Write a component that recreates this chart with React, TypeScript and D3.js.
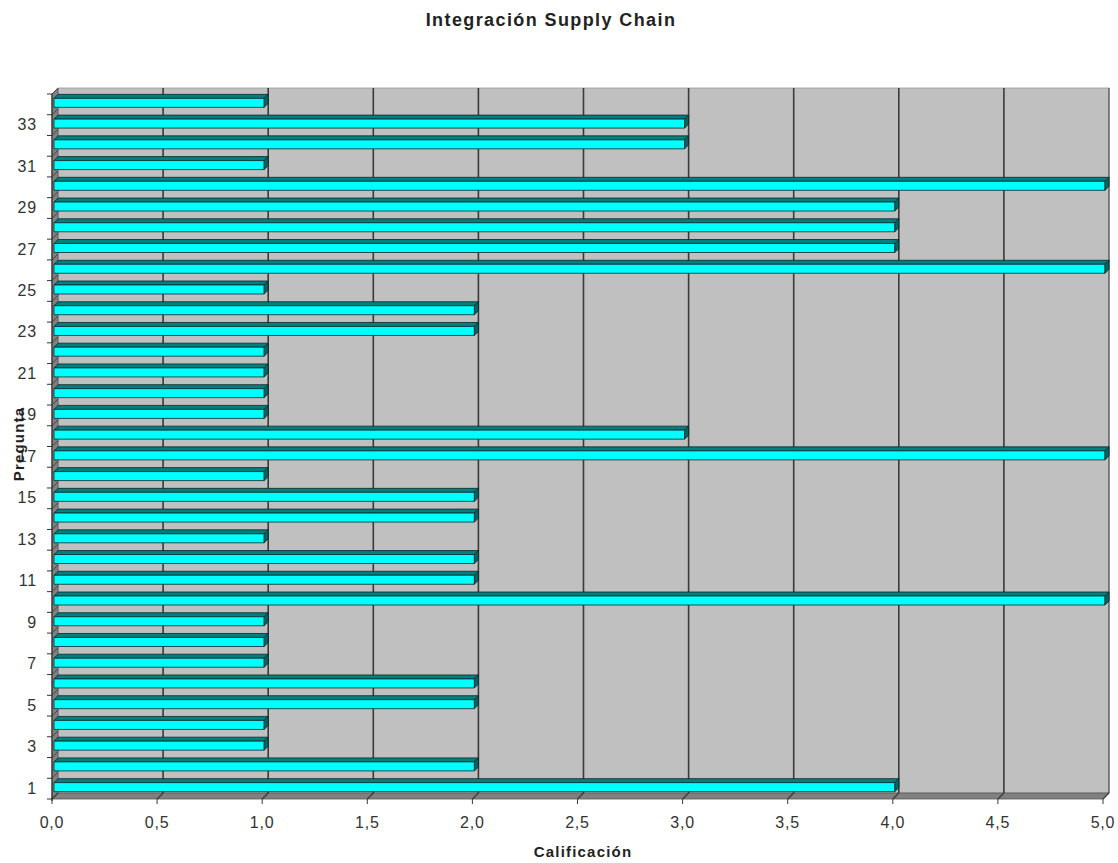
import React from "react";
import * as d3 from "d3";

// Question numbers (1..34) and their score
const preguntas: number[] = d3.range(1, 35);
const calificaciones: number[] = [
  4, 2, 1, 1, 2, 2, 1, 1, 1, 5,
  2, 2, 1, 2, 2, 1, 5, 3, 1, 1,
  1, 1, 2, 2, 1, 5, 4, 4, 4, 5,
  1, 3, 3, 1,
];
const xTicks: number[] = [0, 0.5, 1, 1.5, 2, 2.5, 3, 3.5, 4, 4.5, 5];
const yLabels: number[] = preguntas.filter((p) => p % 2 === 1);

const W = 1118;
const H = 863;

// front plane of the 3D box
const left = 52;
const right = 1103;
const top = 94;
const bottom = 799;
const depth = 6; // wall depth offset (right / up)

const fmt = (v: number) => v.toFixed(1).replace(".", ",");

export default function App() {
  const x = d3.scaleLinear().domain([0, 5]).range([left, right]);
  const y = d3
    .scaleBand<number>()
    .domain(preguntas)
    .range([bottom, top])
    .paddingInner(0)
    .paddingOuter(0);

  const font = "'Liberation Sans', Arial, Helvetica, sans-serif";
  const bx = 2; // bar shift into depth
  const bd = 4; // bar depth
  const bh = 9; // bar front face height

  return (
    <svg width={W} height={H} style={{ display: "block", position: "absolute", left: 0, top: 0 }}>
      <rect width={W} height={H} fill="#ffffff" />
      {/* title */}
      <text
        x={551}
        y={26}
        textAnchor="middle"
        fontFamily={font}
        fontWeight="bold"
        fontSize={18}
        letterSpacing={1.4}
        fill="#222"
      >
        Integración Supply Chain
      </text>

      {/* back wall */}
      <rect
        x={left + depth}
        y={top - depth}
        width={right - left}
        height={bottom - top}
        fill="#c0c0c0"
        stroke="#9a9a9a"
        strokeWidth={0.8}
      />
      {/* left wall */}
      <polygon
        points={`${left},${top} ${left + depth},${top - depth} ${left + depth},${bottom - depth} ${left},${bottom}`}
        fill="#808080"
        stroke="#555"
        strokeWidth={0.8}
      />
      {/* floor */}
      <polygon
        points={`${left},${bottom} ${left + depth},${bottom - depth} ${right + depth},${bottom - depth} ${right},${bottom}`}
        fill="#808080"
        stroke="#555"
        strokeWidth={0.8}
      />

      {/* gridlines on back wall and floor */}
      {xTicks.map((t) => (
        <g key={"g" + t}>
          {t > 0 && (
            <line
              x1={x(t) + depth}
              x2={x(t) + depth}
              y1={top - depth}
              y2={bottom - depth}
              stroke="#3a3a3a"
              strokeWidth={t === 5 ? 1 : 1.6}
            />
          )}
          <line x1={x(t) + depth} y1={bottom - depth} x2={x(t)} y2={bottom} stroke="#3a3a3a" strokeWidth={1.2} />
          <line x1={x(t)} y1={bottom} x2={x(t)} y2={bottom + 5} stroke="#3a3a3a" strokeWidth={1} />
          <text
            x={x(t)}
            y={828}
            textAnchor="middle"
            fontFamily={font}
            fontSize={16}
            letterSpacing={0.8}
            fill="#333"
          >
            {fmt(t)}
          </text>
        </g>
      ))}

      {/* left axis line and category ticks */}
      <line x1={left} y1={top} x2={left} y2={bottom + 2} stroke="#333" strokeWidth={1.2} />
      {d3.range(0, preguntas.length + 1).map((i) => {
        const yy = bottom - i * y.step();
        return (
          <g key={"t" + i}>
            <line x1={left - 5} y1={yy} x2={left} y2={yy} stroke="#333" strokeWidth={1} />
            <line x1={left} y1={yy} x2={left + depth} y2={yy - depth} stroke="#333" strokeWidth={0.8} />
          </g>
        );
      })}
      {yLabels.map((p) => (
        <text
          key={"yl" + p}
          x={37}
          y={(y(p) as number) + y.bandwidth() / 2 + 5}
          textAnchor="end"
          fontFamily={font}
          fontSize={16}
          letterSpacing={0.8}
          fill="#333"
        >
          {p}
        </text>
      ))}

      {/* bars */}
      {preguntas.map((p, i) => {
        const v = calificaciones[i];
        const c = (y(p) as number) + y.bandwidth() / 2;
        const y0 = c - 6;
        const x0 = x(0) + bx;
        const x1 = x(v) + bx;
        return (
          <g key={"b" + p} stroke="#0a2a2a" strokeWidth={0.8} strokeLinejoin="round">
            <polygon
              points={`${x0},${y0} ${x0 + bd},${y0 - bd} ${x1 + bd},${y0 - bd} ${x1},${y0}`}
              fill="#007f7f"
            />
            <rect x={x0} y={y0} width={x1 - x0} height={bh} fill="#00ffff" />
            <polygon
              points={`${x1},${y0} ${x1 + bd},${y0 - bd} ${x1 + bd},${y0 + bh - bd} ${x1},${y0 + bh}`}
              fill="#006666"
            />
          </g>
        );
      })}

      {/* axis titles */}
      <text
        x={583}
        y={857}
        textAnchor="middle"
        fontFamily={font}
        fontWeight="bold"
        fontSize={15}
        letterSpacing={1.2}
        fill="#222"
      >
        Calificación
      </text>
      <text
        transform={`translate(24,444) rotate(-90)`}
        textAnchor="middle"
        fontFamily={font}
        fontWeight="bold"
        fontSize={15}
        letterSpacing={1.2}
        fill="#222"
      >
        Pregunta
      </text>
    </svg>
  );
}
